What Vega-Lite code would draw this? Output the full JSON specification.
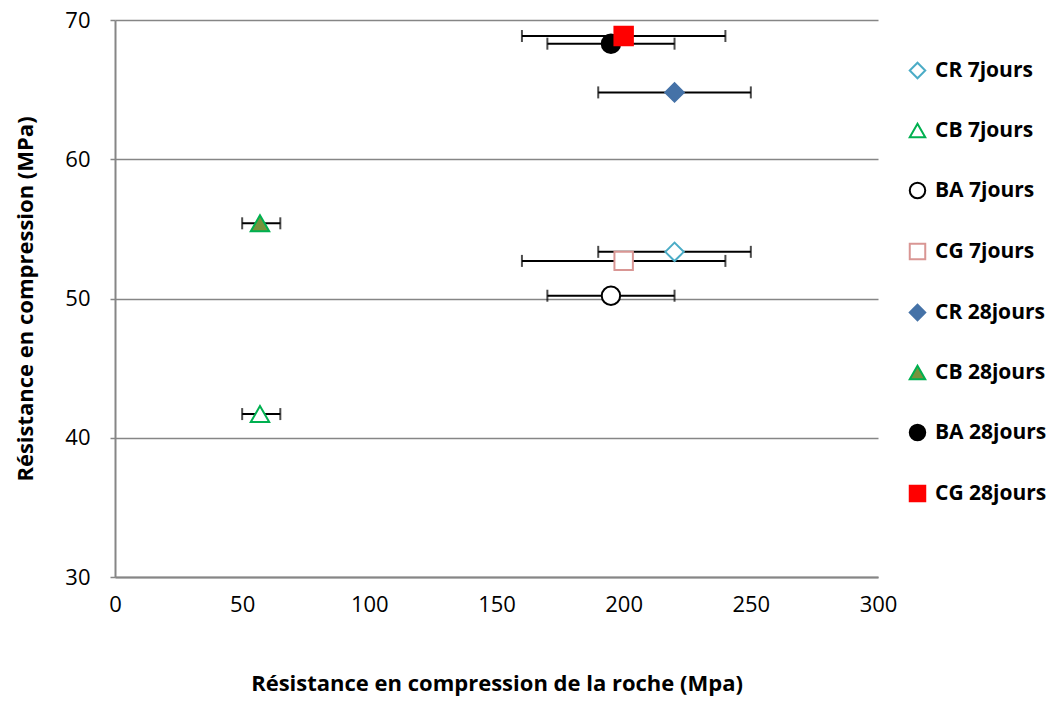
{
  "$schema": "https://vega.github.io/schema/vega-lite/v6.json",
  "width": 763,
  "height": 557,
  "autosize": "none",
  "padding": {"left": 115, "top": 20, "right": 179, "bottom": 125},
  "background": "white",
  "config": {
    "view": {"stroke": null},
    "font": "Open Sans"
  },
  "data": {
    "values": [
      {"serie": "CR 7jours", "roche": 220, "rc": 53.35, "lo": 190, "hi": 250},
      {"serie": "CB 7jours", "roche": 57, "rc": 41.7, "lo": 50, "hi": 65},
      {"serie": "BA 7jours", "roche": 195, "rc": 50.2, "lo": 170, "hi": 220},
      {"serie": "CG 7jours", "roche": 200, "rc": 52.7, "lo": 160, "hi": 240},
      {"serie": "CR 28jours", "roche": 220, "rc": 64.8, "lo": 190, "hi": 250},
      {"serie": "CB 28jours", "roche": 57, "rc": 55.4, "lo": 50, "hi": 65},
      {"serie": "BA 28jours", "roche": 195, "rc": 68.3, "lo": 170, "hi": 220},
      {"serie": "CG 28jours", "roche": 200, "rc": 68.85, "lo": 160, "hi": 240}
    ]
  },
  "layer": [
    {
      "mark": {"type": "rule", "color": "black", "strokeWidth": 2},
      "encoding": {
        "x": {"field": "lo", "type": "quantitative", "scale": {"domain": [0, 300], "nice": false},
          "axis": {
            "values": [0, 50, 100, 150, 200, 250, 300],
            "grid": false, "ticks": false, "labelFlush": false,
            "domainColor": "#868686", "domainWidth": 2,
            "labelFontSize": 22, "labelColor": "black", "labelPadding": 17,
            "title": "Résistance en compression de la roche (Mpa)",
            "titleFontSize": 22, "titleFontWeight": "bold", "titleColor": "black",
            "titlePadding": 58
          }},
        "x2": {"field": "hi"},
        "y": {"field": "rc", "type": "quantitative", "scale": {"domain": [30, 70], "nice": false},
          "axis": {
            "values": [30, 40, 50, 60, 70],
            "grid": true, "gridColor": "#868686", "gridWidth": 1.5,
            "domainColor": "#868686", "domainWidth": 2,
            "ticks": true, "tickColor": "#868686", "tickSize": 5, "tickWidth": 1.5,
            "labelFontSize": 22, "labelColor": "black", "labelPadding": 20,
            "title": "Résistance en compression (MPa)",
            "titleFontSize": 22, "titleFontWeight": "bold", "titleColor": "black",
            "titlePadding": 27
          }}
      }
    },
    {
      "mark": {"type": "tick", "orient": "vertical", "color": "black", "thickness": 2, "size": 12},
      "encoding": {
        "x": {"field": "lo", "type": "quantitative"},
        "y": {"field": "rc", "type": "quantitative"}
      }
    },
    {
      "mark": {"type": "tick", "orient": "vertical", "color": "black", "thickness": 2, "size": 12},
      "encoding": {
        "x": {"field": "hi", "type": "quantitative"},
        "y": {"field": "rc", "type": "quantitative"}
      }
    },
    {
      "mark": {"type": "point", "filled": false, "strokeWidth": 2, "size": 340, "opacity": 1},
      "encoding": {
        "x": {"field": "roche", "type": "quantitative"},
        "y": {"field": "rc", "type": "quantitative"},
        "color": {"field": "serie", "type": "nominal",
          "scale": {"domain": ["CR 7jours", "CB 7jours", "BA 7jours", "CG 7jours", "CR 28jours", "CB 28jours", "BA 28jours", "CG 28jours"],
                    "range": ["#4BACC6", "#00B050", "#000000", "#D99694", "#4572A7", "#00B050", "#000000", "#FF0000"]},
          "legend": {
            "title": null, "orient": "none", "legendX": 792, "legendY": 40,
            "labelFontSize": 21, "labelFontWeight": "bold", "labelColor": "black",
            "symbolSize": 240, "symbolStrokeWidth": 2, "rowPadding": 36, "labelOffset": 7,
            "symbolOpacity": 1, "labelLimit": 300
          }},
        "shape": {"field": "serie", "type": "nominal",
          "scale": {"domain": ["CR 7jours", "CB 7jours", "BA 7jours", "CG 7jours", "CR 28jours", "CB 28jours", "BA 28jours", "CG 28jours"],
                    "range": ["diamond", "triangle-up", "circle", "square", "diamond", "triangle-up", "circle", "square"]}},
        "fill": {"field": "serie", "type": "nominal",
          "scale": {"domain": ["CR 7jours", "CB 7jours", "BA 7jours", "CG 7jours", "CR 28jours", "CB 28jours", "BA 28jours", "CG 28jours"],
                    "range": ["#FFFFFF", "#FFFFFF", "#FFFFFF", "#FFFFFF", "#4572A7", "#77933C", "#000000", "#FF0000"]}}
      }
    }
  ]
}
